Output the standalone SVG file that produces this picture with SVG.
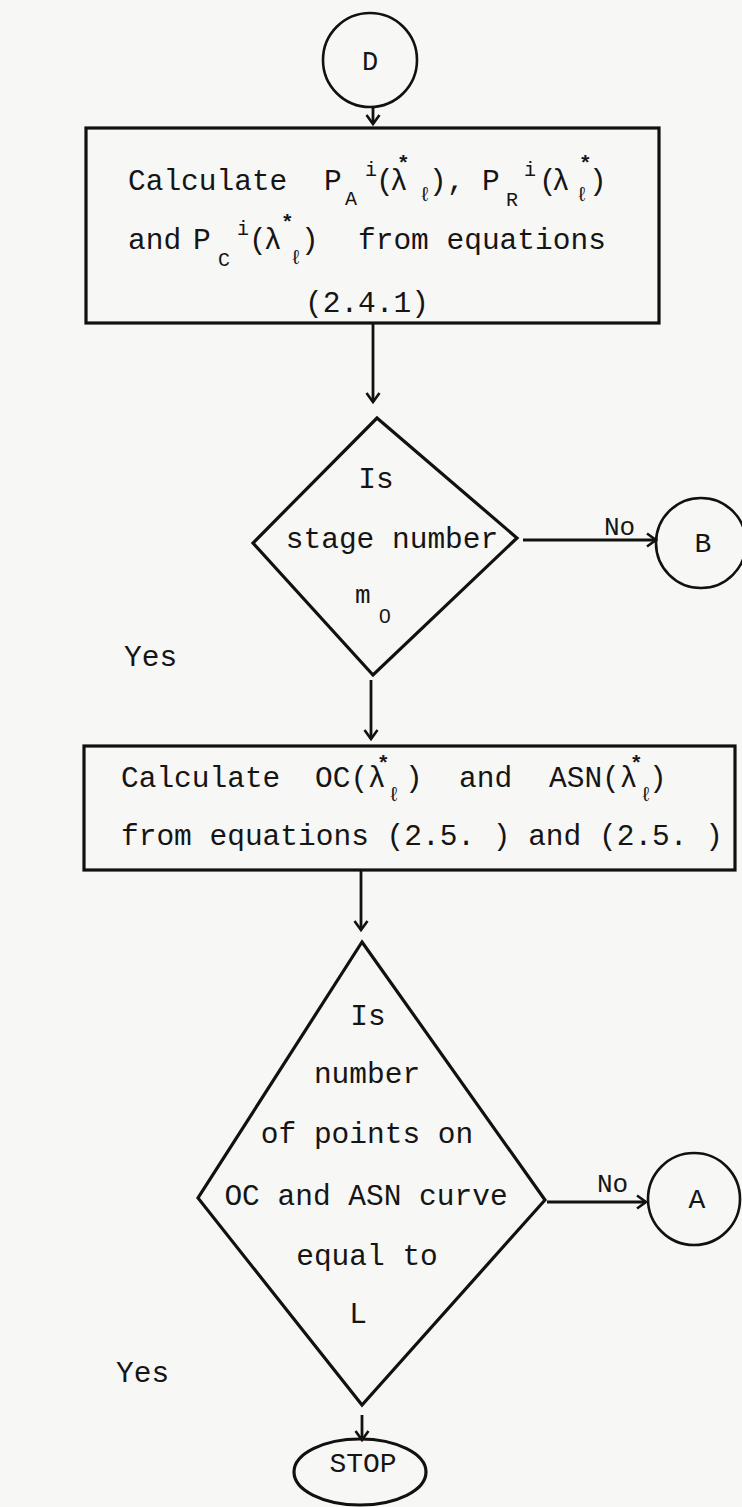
<svg xmlns="http://www.w3.org/2000/svg" width="742" height="1507" viewBox="0 0 742 1507">
<style>
.t{font-family:"Liberation Mono","DejaVu Sans Mono",monospace;font-size:29.5px;fill:#151515}
.s{font-size:20px}
.st{font-size:21px;font-weight:bold}
.m{text-anchor:middle}
.sh{fill:none;stroke:#111;stroke-width:3.2;stroke-linejoin:miter}
.c{fill:none;stroke:#111;stroke-width:2.6}
.ar{fill:none;stroke:#111;stroke-width:2.8}
</style>
<defs>
<marker id="ah" markerUnits="userSpaceOnUse" markerWidth="20" markerHeight="20" refX="0" refY="0" viewBox="-12 -10 14 20" orient="auto">
<path d="M-9,-6.5 L0,0 L-9,6.5" fill="none" stroke="#111" stroke-width="2.6"/>
</marker>
</defs>
<rect x="0" y="0" width="742" height="1507" fill="#f7f7f5"/>

<g id="connectors">
<path class="ar" d="M373 107 V124" marker-end="url(#ah)"/>
<path class="ar" d="M373 323 V402" marker-end="url(#ah)"/>
<path class="ar" d="M371 680 V739" marker-end="url(#ah)"/>
<path class="ar" d="M361 870 V930" marker-end="url(#ah)"/>
<path class="ar" d="M523 540 H656" marker-end="url(#ah)"/>
<path class="ar" d="M547 1202 H646" marker-end="url(#ah)"/>
<path class="ar" d="M362 1415 V1440" marker-end="url(#ah)"/>
<text class="t" x="604" y="535" style="font-size:26px">No</text>
<text class="t" x="597" y="1192" style="font-size:26px">No</text>
<text class="t" x="124" y="666">Yes</text>
<text class="t" x="116" y="1382">Yes</text>
</g>

<g id="connD">
<circle class="c" cx="370" cy="60" r="47"/>
<text class="t m" x="370" y="70" style="font-size:27px">D</text>
</g>

<g id="box1">
<rect class="sh" x="86" y="128" width="573" height="195"/>
<text class="t" x="128" y="190">Calculate</text>
<text class="t" x="324" y="190">P</text>
<text class="t s" x="345" y="205">A</text>
<text class="t s" x="365" y="176">i</text>
<text class="t" x="376" y="190">(</text>
<text class="t" x="390" y="190">λ</text>
<text class="t st" x="397" y="170">*</text>
<text class="t s" x="419" y="201">ℓ</text>
<text class="t" x="429" y="190">)</text>
<text class="t" x="447" y="190">,</text>
<text class="t" x="482" y="190">P</text>
<text class="t s" x="506" y="206">R</text>
<text class="t s" x="524" y="176">i</text>
<text class="t" x="539" y="190">(</text>
<text class="t" x="552" y="190">λ</text>
<text class="t st" x="579" y="170">*</text>
<text class="t s" x="576" y="201">ℓ</text>
<text class="t" x="589" y="190">)</text>
<text class="t" x="128" y="249">and</text>
<text class="t" x="193" y="249">P</text>
<text class="t s" x="218" y="266">C</text>
<text class="t s" x="237" y="235">i</text>
<text class="t" x="249" y="249">(</text>
<text class="t" x="264" y="249">λ</text>
<text class="t st" x="281" y="229">*</text>
<text class="t s" x="290" y="264">ℓ</text>
<text class="t" x="301" y="249">)</text>
<text class="t" x="358" y="249">from equations</text>
<text class="t" x="305" y="312">(2.4.1)</text>
</g>

<g id="dec1">
<polygon class="sh" points="377,418 517,538 373,675 253,543"/>
<text class="t m" x="376" y="488">Is</text>
<text class="t m" x="392" y="548">stage number</text>
<text class="t" x="355" y="603" style="font-size:26px">m</text>
<text class="t" x="379" y="623" style="font-family:'Liberation Sans',sans-serif;font-size:21px">0</text>
</g>

<g id="connB">
<circle class="c" cx="701" cy="543" r="45"/>
<text class="t m" x="703" y="552" style="font-size:28px">B</text>
</g>

<g id="box2">
<rect class="sh" x="84" y="746" width="651" height="124"/>
<text class="t" x="121" y="787">Calculate</text>
<text class="t" x="315" y="787">OC(λ</text>
<text class="t st" x="377" y="770">*</text>
<text class="t s" x="388" y="801">ℓ</text>
<text class="t" x="405" y="787">)</text>
<text class="t" x="459" y="787">and</text>
<text class="t" x="549" y="787">ASN(λ</text>
<text class="t st" x="630" y="770">*</text>
<text class="t s" x="640" y="801">ℓ</text>
<text class="t" x="649" y="787">)</text>
<text class="t" x="121" y="845" xml:space="preserve">from equations (2.5. ) and (2.5. )</text>
</g>

<g id="dec2">
<polygon class="sh" points="362,942 545,1200 362,1405 198,1198"/>
<text class="t m" x="368" y="1025">Is</text>
<text class="t m" x="367" y="1083">number</text>
<text class="t m" x="367" y="1143">of points on</text>
<text class="t m" x="366" y="1205">OC and ASN curve</text>
<text class="t m" x="367" y="1265">equal to</text>
<text class="t m" x="358" y="1323">L</text>
</g>

<g id="connA">
<circle class="c" cx="694" cy="1199" r="46"/>
<text class="t m" x="697" y="1208" style="font-size:28px">A</text>
</g>

<g id="stop">
<ellipse class="sh" cx="360" cy="1472" rx="66" ry="33"/>
<text class="t m" x="363" y="1472" style="font-size:28px">STOP</text>
</g>
</svg>
